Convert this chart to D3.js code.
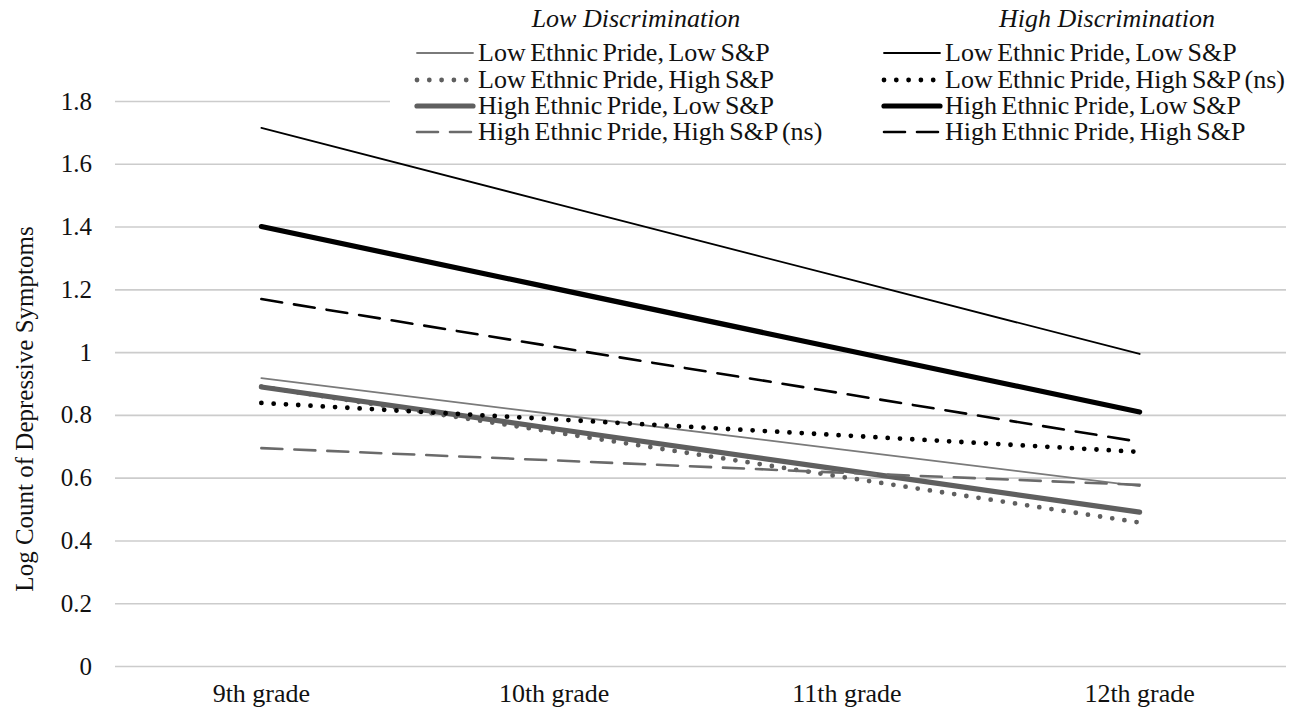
<!DOCTYPE html>
<html>
<head>
<meta charset="utf-8">
<script src="https://cdn.jsdelivr.net/npm/d3@7"></script>
<style>
  body { margin: 0; background: #fff; }
  svg text { font-family: "Liberation Serif", "Times New Roman", serif; fill: #111; }
</style>
</head>
<body>
<svg id="chart" width="1308" height="709"></svg>
<script>
const grades = ['9th grade', '10th grade', '11th grade', '12th grade'];
const yTicks = [0, 0.2, 0.4, 0.6, 0.8, 1, 1.2, 1.4, 1.6, 1.8];

// Low discrimination (grey)
const lowDiscLowPrideLowSP = [0.917, 0.802, 0.688, 0.573];
const lowDiscLowPrideHighSP = [0.890, 0.745, 0.600, 0.457];
const lowDiscHighPrideLowSP = [0.889, 0.756, 0.623, 0.490];
const lowDiscHighPrideHighSP = [0.694, 0.655, 0.615, 0.577];

// High discrimination (black)
const highDiscLowPrideLowSP = [1.714, 1.474, 1.234, 0.994];
const highDiscLowPrideHighSP = [0.838, 0.786, 0.734, 0.682];
const highDiscHighPrideLowSP = [1.400, 1.203, 1.006, 0.809];
const highDiscHighPrideHighSP = [1.169, 1.017, 0.866, 0.714];

const lowLabels = ['Low Ethnic Pride, Low S&P', 'Low Ethnic Pride, High S&P',
  'High Ethnic Pride, Low S&P', 'High Ethnic Pride, High S&P (ns)'];
const highLabels = ['Low Ethnic Pride, Low S&P', 'Low Ethnic Pride, High S&P (ns)',
  'High Ethnic Pride, Low S&P', 'High Ethnic Pride, High S&P'];

const styles = {
  thin: { width: 1.8, dash: null, cap: 'round' },
  dot: { width: 4.8, dash: '0 12.3', cap: 'round' },
  thick: { width: 5.2, dash: null, cap: 'round' },
  dash: { width: 2.6, dash: '21 12', cap: 'round' }
};

const series = [
  { values: lowDiscLowPrideLowSP, color: '#7a7a7a', style: 'thin' },
  { values: lowDiscLowPrideHighSP, color: '#5f5f5f', style: 'dot' },
  { values: lowDiscHighPrideLowSP, color: '#5f5f5f', style: 'thick' },
  { values: lowDiscHighPrideHighSP, color: '#6a6a6a', style: 'dash' },
  { values: highDiscLowPrideLowSP, color: '#000', style: 'thin' },
  { values: highDiscLowPrideHighSP, color: '#000', style: 'dot' },
  { values: highDiscHighPrideLowSP, color: '#000', style: 'thick' },
  { values: highDiscHighPrideHighSP, color: '#000', style: 'dash' }
];

const svg = d3.select('#chart');
const plot = { left: 115, right: 1286, top: 101, bottom: 666 };

const x = d3.scaleBand().domain(grades).range([plot.left, plot.right]);
const y = d3.scaleLinear().domain([0, 1.8]).range([plot.bottom, plot.top]);

function applyStyle(sel, s) {
  const st = styles[s.style];
  sel.attr('fill', 'none')
    .attr('stroke', s.color)
    .attr('stroke-width', st.width)
    .attr('stroke-linecap', st.cap)
    .attr('stroke-dasharray', st.dash);
}

// gridlines + y tick labels
const yAxis = d3.axisLeft(y).tickValues(yTicks).tickSize(-(plot.right - plot.left))
  .tickPadding(23).tickFormat((d) => d3.format('~g')(d));
const gy = svg.append('g').attr('transform', `translate(${plot.left},0)`).call(yAxis);
gy.select('.domain').remove();
gy.selectAll('.tick line').attr('stroke', '#cccccc').attr('stroke-width', 1.6);
gy.selectAll('.tick text').attr('font-size', 25).attr('font-family', '"Liberation Serif", serif')
  .attr('fill', '#111');

// x labels
const xAxis = d3.axisBottom(x).tickSize(0).tickPadding(18);
const gx = svg.append('g').attr('transform', `translate(0,${plot.bottom})`).call(xAxis);
gx.select('.domain').remove();
gx.selectAll('.tick text').attr('font-size', 26).attr('font-family', '"Liberation Serif", serif')
  .attr('fill', '#111');

// y title
svg.append('text')
  .attr('transform', 'translate(33,409) rotate(-90)')
  .attr('text-anchor', 'middle')
  .attr('font-size', 25)
  .text('Log Count of Depressive Symptoms');

// series lines
const line = d3.line()
  .x((d, i) => x(grades[i]) + x.bandwidth() / 2)
  .y((d) => y(d));

series.forEach((s) => {
  svg.append('path').datum(s.values).attr('d', line).call(applyStyle, s);
});

// legend box covers the top gridline
const legend = svg.append('g');
legend.append('rect').attr('x', 390).attr('y', 0).attr('width', 918).attr('height', 150).attr('fill', '#fff');

const columns = [
  { title: 'Low Discrimination', titleX: 636, sampleX: 417, textX: 478, labels: lowLabels, items: series.slice(0, 4) },
  { title: 'High Discrimination', titleX: 1107, sampleX: 884, textX: 945, labels: highLabels, items: series.slice(4) }
];
const rowY = [53, 80, 106, 132];

columns.forEach((c) => {
  legend.append('text')
    .attr('x', c.titleX).attr('y', 27)
    .attr('text-anchor', 'middle')
    .attr('font-style', 'italic')
    .attr('font-size', 26)
    .text(c.title);
  c.items.forEach((s, i) => {
    legend.append('line')
      .attr('x1', c.sampleX).attr('x2', c.textX - 5)
      .attr('y1', rowY[i]).attr('y2', rowY[i])
      .call(applyStyle, s);
    legend.append('text')
      .attr('x', c.textX).attr('y', rowY[i] + 8)
      .attr('font-size', 26)
      .attr('word-spacing', -2)
      .text(c.labels[i]);
  });
});
</script>
</body>
</html>
